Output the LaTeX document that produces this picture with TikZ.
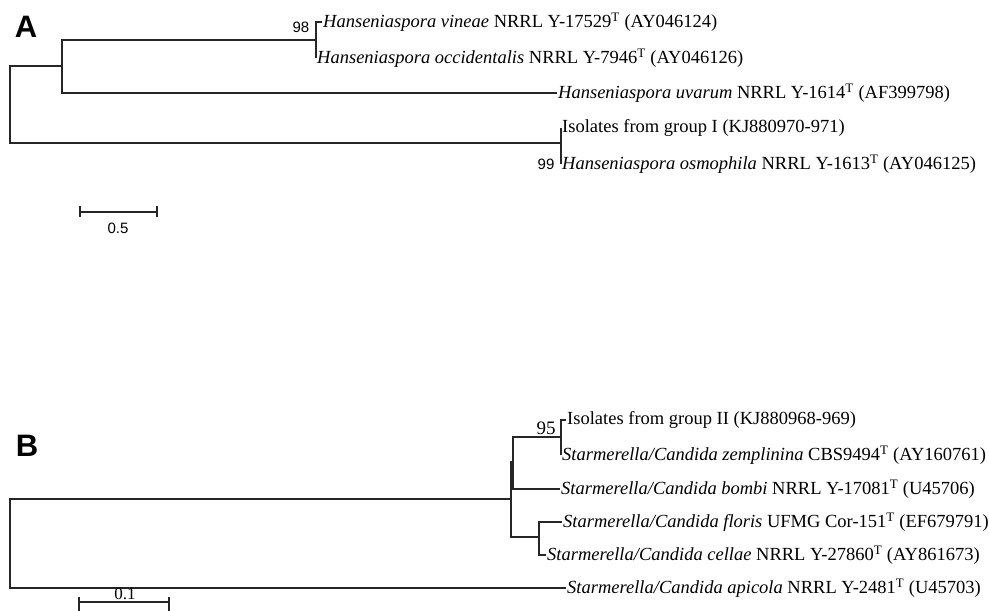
\documentclass[tikz,border=0pt]{standalone}
\usepackage{fontspec}
\setmainfont{Liberation Serif}
\setsansfont{Liberation Sans}
\usetikzlibrary{calc}
\tikzstyle{leaf}=[anchor=west, inner sep=1pt, font=\fontsize{18.5}{22}\selectfont]
\tikzstyle{boot}=[inner sep=0pt, font=\sffamily\fontsize{15}{18}\selectfont]
\tikzstyle{bootser}=[inner sep=0pt, font=\fontsize{19}{23}\selectfont]
\tikzstyle{panel}=[inner sep=0pt, font=\sffamily\bfseries\fontsize{31}{36}\selectfont]
\tikzstyle{br}=[draw=black!85, line width=1.1pt]

\begin{document}
\begin{tikzpicture}[x=1pt, y=-1pt]
\useasboundingbox (0,0) rectangle (989,611);

% panel A
\node[panel] (pa) at (26,27) {A};

% internal nodes
\coordinate (rootA) at (10,104.5);
\coordinate (na1) at (62,66);
\coordinate (na2) at (316,40);
\coordinate (na3) at (561,143);

% leaves
\node[leaf] (vin) at (322,22) {\textit{Hanseniaspora vineae} NRRL Y-17529\textsuperscript{T} (AY046124)};
\node[leaf] (occ) at (316,58) {\textit{Hanseniaspora occidentalis} NRRL Y-7946\textsuperscript{T} (AY046126)};
\node[leaf] (uva) at (557,93) {\textit{Hanseniaspora uvarum} NRRL Y-1614\textsuperscript{T} (AF399798)};
\node[leaf] (isoI) at (561,128) {Isolates from group I (KJ880970-971)};
\node[leaf] (osm) at (561,164) {\textit{Hanseniaspora osmophila} NRRL Y-1613\textsuperscript{T} (AY046125)};

% bootstrap
\node[boot] (bA1) at (301,27) {98};
\node[boot] (bA2) at (546,164) {99};

% branches
\path [br] (rootA) |- (na1);
\path [br] (rootA) |- (na3);
\path [br] (na1) |- (na2);
\path [br] (na1) |- (uva.west);
\path [br] (na2) |- (vin.west);
\path [br] (na2) |- (occ.west);
\path [br] (na3) |- (isoI.west);
\path [br] (na3) |- (osm.west);

% scale
\coordinate (sA1) at (80,212);
\coordinate (sA2) at (157,212);
\path [br] (sA1) -- (sA2);
\path [br] ($(sA1)+(0,-6)$) -- ($(sA1)+(0,5)$);
\path [br] ($(sA2)+(0,-6)$) -- ($(sA2)+(0,5)$);
\node[boot] (lA) at (118,228) {0.5};

% panel B
\node[panel] (pb) at (27,446) {B};

% internal nodes
\coordinate (rootB) at (10,543);
\coordinate (nb1) at (511,499);
\coordinate (nb2) at (513,462);
\coordinate (nb3) at (561,437);
\coordinate (nb4) at (539,537);

% leaves
\node[leaf] (isoII) at (566,420) {Isolates from group II (KJ880968-969)};
\node[leaf] (zem) at (561,455) {\textit{Starmerella/Candida zemplinina} CBS9494\textsuperscript{T} (AY160761)};
\node[leaf] (bom) at (560,489) {\textit{Starmerella/Candida bombi} NRRL Y-17081\textsuperscript{T} (U45706)};
\node[leaf] (flo) at (562,522) {\textit{Starmerella/Candida floris} UFMG Cor-151\textsuperscript{T} (EF679791)};
\node[leaf] (cel) at (546,555) {\textit{Starmerella/Candida cellae} NRRL Y-27860\textsuperscript{T} (AY861673)};
\node[leaf] (api) at (566,588) {\textit{Starmerella/Candida apicola} NRRL Y-2481\textsuperscript{T} (U45703)};

% bootstrap
\node[bootser] (bB1) at (546,428) {95};

% branches
\path [br] (rootB) |- (nb1);
\path [br] (rootB) |- (api.west);
\path [br] (nb1) |- (nb2);
\path [br] (nb1) |- (nb4);
\path [br] (nb2) |- (nb3);
\path [br] (nb2) |- (bom.west);
\path [br] (nb3) |- (isoII.west);
\path [br] (nb3) |- (zem.west);
\path [br] (nb4) |- (flo.west);
\path [br] (nb4) |- (cel.west);

% scale
\coordinate (sB1) at (79,602);
\coordinate (sB2) at (169,602);
\path [br] (sB1) -- (sB2);
\path [br] ($(sB1)+(0,-5)$) -- ($(sB1)+(0,9)$);
\path [br] ($(sB2)+(0,-5)$) -- ($(sB2)+(0,9)$);
\node[bootser, font=\fontsize{17}{20}\selectfont] (lB) at (125,594) {0.1};

\end{tikzpicture}
\end{document}
